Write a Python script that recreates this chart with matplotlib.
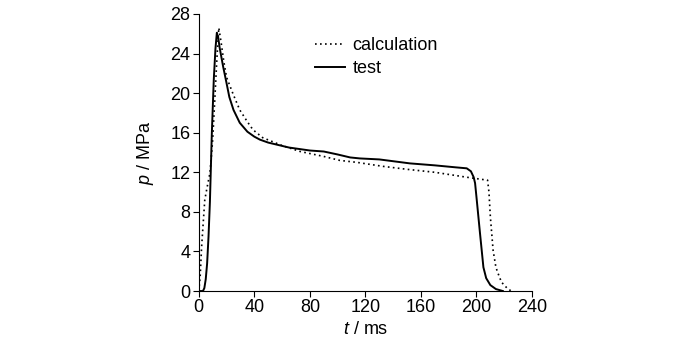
import matplotlib
matplotlib.use("Agg")
import matplotlib.pyplot as plt

# measured pressure (test)
t_test = [0, 3, 4, 5, 6, 7, 8, 8.6, 9.4, 10.8, 12, 13, 14, 15, 17.5, 20, 22, 25,
          29.5, 35, 40, 44, 50, 56, 65, 80, 90, 100, 109, 116, 130, 152, 170, 185,
          193, 196, 198, 199, 200, 202.5, 205, 207, 210, 214, 219]
p_test = [0, 0, 0.3, 1.2, 2.8, 5.5, 9, 12, 16, 21.4, 24.5, 26.1, 25.6, 24.6, 22.7,
          21, 19.6, 18.3, 17, 16.1, 15.6, 15.3, 15.0, 14.8, 14.5, 14.2, 14.1, 13.8,
          13.5, 13.4, 13.3, 12.9, 12.7, 12.5, 12.4, 12.1, 11.5, 10.9, 9.5, 5.9, 2.4,
          1.3, 0.6, 0.2, 0.0]

# calculated pressure
t_calc = [0, 1, 2, 3, 4.3, 6, 8, 9, 10, 11.5, 13, 14.4, 16, 18, 20, 25, 29.5, 35,
          39, 46, 60, 73, 90, 101.6, 114, 132.6, 150, 170, 193, 208, 209, 210, 212,
          214, 215.5, 218, 222, 225]
p_calc = [0, 1.5, 4.4, 6.5, 9.2, 10.5, 11.9, 13.5, 15.3, 19.3, 23.4, 26.6, 25.2,
          23.2, 21.6, 19.8, 18.3, 17.1, 16.3, 15.5, 14.7, 14.1, 13.6, 13.2, 13.0,
          12.6, 12.3, 12.0, 11.5, 11.2, 10.0, 7.5, 4.1, 2.4, 1.8, 0.9, 0.3, 0]

x_ticks = [0, 40, 80, 120, 160, 200, 240]
y_ticks = [0, 4, 8, 12, 16, 20, 24, 28]

plt.rcParams["font.family"] = ["Liberation Sans", "DejaVu Sans"]
plt.rcParams["mathtext.fontset"] = "custom"
plt.rcParams["mathtext.it"] = "Liberation Sans:italic"
plt.rcParams["mathtext.rm"] = "Liberation Sans"


def main():
    fig = plt.figure(figsize=(7, 3.4), dpi=100)
    ax = fig.add_axes([0.284, 0.144, 0.476, 0.815])

    ax.plot(t_calc, p_calc, color="black", linewidth=1.2, linestyle=(0, (1, 2)),
            label="calculation")
    ax.plot(t_test, p_test, color="black", linewidth=1.4, label="test")

    ax.set_xlim(0, 240)
    ax.set_ylim(0, 28)
    ax.set_xticks(x_ticks)
    ax.set_yticks(y_ticks)
    ax.spines["top"].set_visible(False)
    ax.spines["right"].set_visible(False)
    ax.tick_params(direction="out", length=4, width=0.8, labelsize=13, pad=2)

    ax.set_xlabel(r"$t$ / ms", fontsize=13, labelpad=3)
    ax.set_ylabel(r"$p$ / MPa", fontsize=13, labelpad=10)

    ax.legend(loc="upper left", bbox_to_anchor=(0.348, 0.915), frameon=False,
              fontsize=13, handlelength=1.7, handletextpad=0.4, labelspacing=0.3,
              borderaxespad=0, borderpad=0)

    fig.savefig("out.png", dpi=100)


if __name__ == "__main__":
    main()
